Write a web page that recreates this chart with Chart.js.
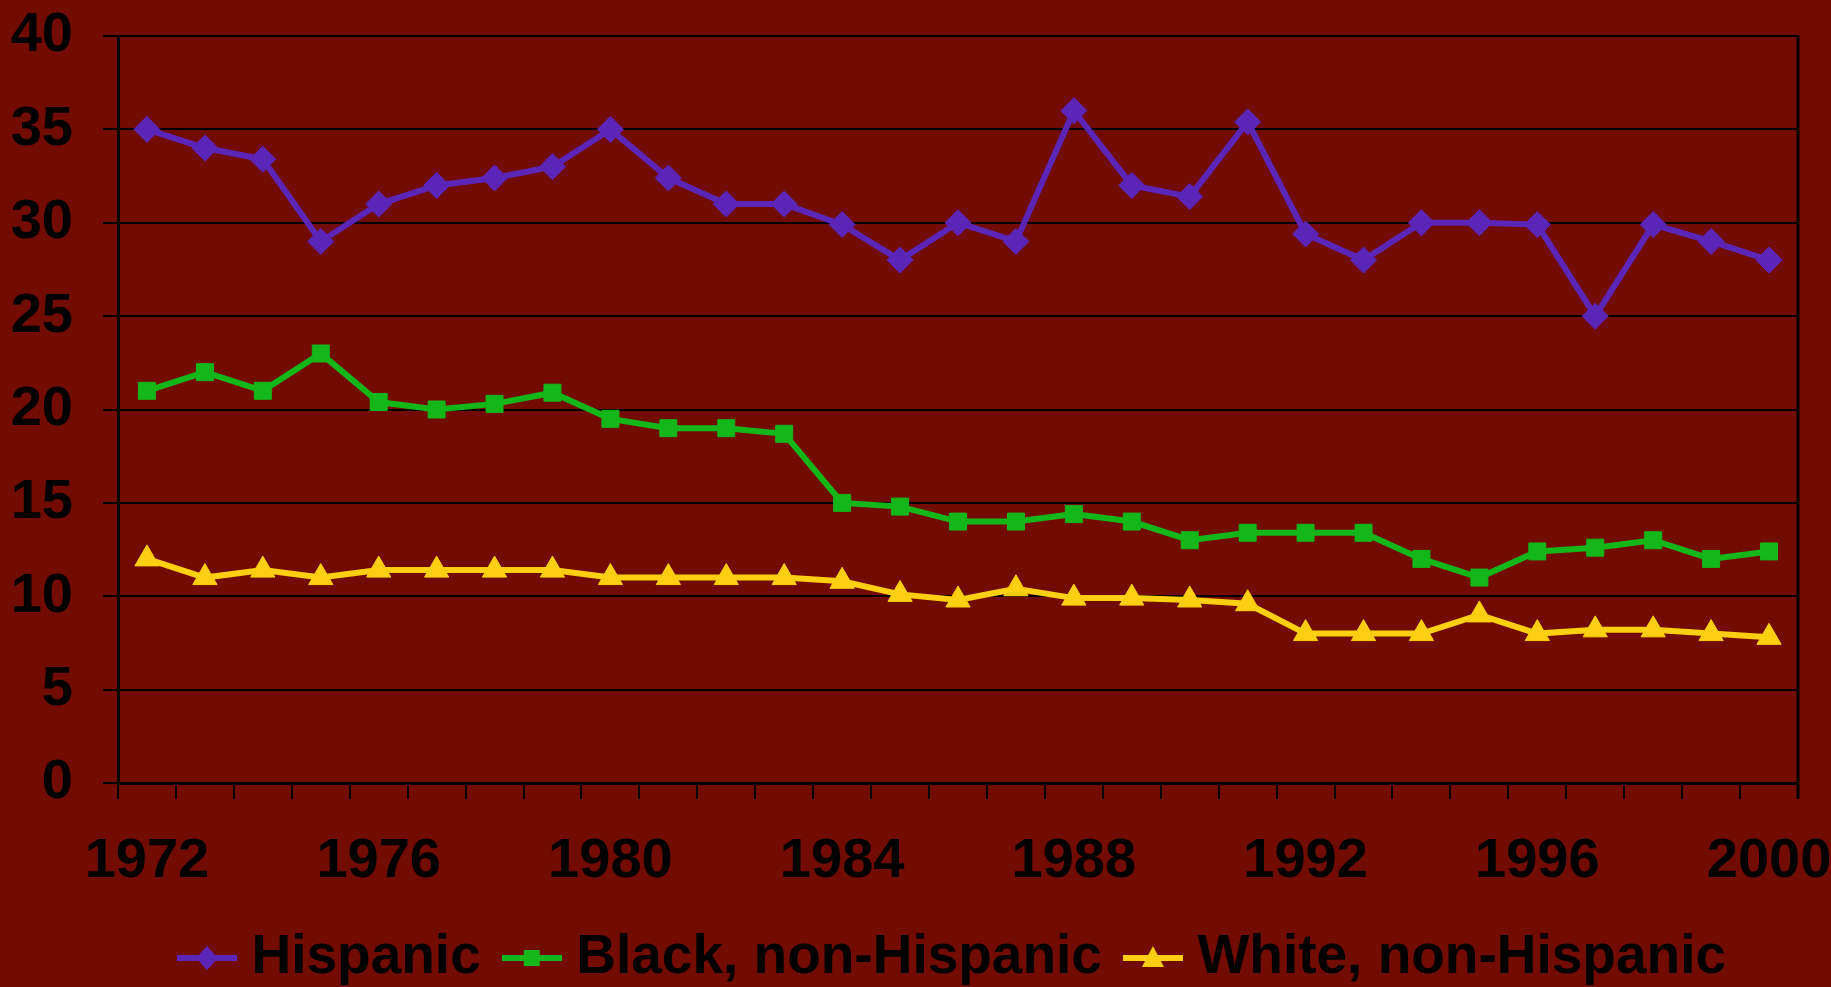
<!DOCTYPE html>
<html>
<head>
<meta charset="utf-8">
<title>Rates by group, 1972-2000</title>
<script src="https://cdn.jsdelivr.net/npm/chart.js@4.4.1/dist/chart.umd.min.js"></script>
<style>
  html, body { margin: 0; padding: 0; background: #720b02; }
  #wrap { width: 1831px; height: 987px; }
</style>
</head>
<body>
<div id="wrap"><canvas id="chart" width="1831" height="987"></canvas></div>
<script>
'use strict';

// ---- data ----
const YEARS = ['1972','1973','1974','1975','1976','1977','1978','1979','1980','1981',
               '1982','1983','1984','1985','1986','1987','1988','1989','1990','1991',
               '1992','1993','1994','1995','1996','1997','1998','1999','2000'];
const X_LABELED = ['1972','1976','1980','1984','1988','1992','1996','2000'];
const Y_TICKS = [0, 5, 10, 15, 20, 25, 30, 35, 40];

const HISPANIC = [35, 34, 33.4, 29, 31, 32, 32.4, 33, 35, 32.4,
                  31, 31, 29.9, 28, 30, 29, 36, 32, 31.4, 35.4,
                  29.4, 28, 30, 30, 29.9, 25, 29.9, 29, 28];
const BLACK    = [21, 22, 21, 23, 20.4, 20, 20.3, 20.9, 19.5, 19,
                  19, 18.7, 15, 14.8, 14, 14, 14.4, 14, 13, 13.4,
                  13.4, 13.4, 12, 11, 12.4, 12.6, 13, 12, 12.4];
const WHITE    = [12, 11, 11.4, 11, 11.4, 11.4, 11.4, 11.4, 11, 11,
                  11, 11, 10.8, 10.1, 9.8, 10.4, 9.9, 9.9, 9.8, 9.6,
                  8, 8, 8, 9, 8, 8.2, 8.2, 8, 7.8];

const SERIES_NAMES = ['Hispanic', 'Black, non-Hispanic', 'White, non-Hispanic'];
const COLORS = { purple: '#5b25b8', green: '#14b71a', yellow: '#fccf12' };

const FAMILY = "'Liberation Sans', Arial, sans-serif";
const TICK_FONT = { family: FAMILY, weight: 'bold', size: 56 };
const LEGEND_FONT = { family: FAMILY, weight: 'bold', size: 55 };

// legend marker: short line with the point shape, drawn into a small canvas
function legendMark(color, shape) {
  const c = document.createElement('canvas');
  c.width = 60; c.height = 30;
  const g = c.getContext('2d');
  const cx = 30, cy = 15;
  g.strokeStyle = color; g.lineWidth = 6;
  g.beginPath(); g.moveTo(0, cy); g.lineTo(60, cy); g.stroke();
  g.fillStyle = color;
  g.beginPath();
  if (shape === 'diamond') {
    g.moveTo(cx, cy - 12); g.lineTo(cx + 11, cy); g.lineTo(cx, cy + 12); g.lineTo(cx - 11, cy);
  } else if (shape === 'square') {
    g.rect(cx - 8, cy - 8, 16, 16);
  } else {
    g.moveTo(cx, cy - 12); g.lineTo(cx + 11, cy + 9); g.lineTo(cx - 11, cy + 9);
  }
  g.closePath(); g.fill();
  return c;
}
const LEGEND_MARKS = [
  legendMark(COLORS.purple, 'diamond'),
  legendMark(COLORS.green, 'square'),
  legendMark(COLORS.yellow, 'triangle'),
];

const plotFrame = {
  id: 'plotFrame',
  beforeDatasetsDraw(chart) {
    const { ctx, chartArea: a } = chart;
    ctx.save();
    ctx.strokeStyle = '#000';
    ctx.lineWidth = 3;
    ctx.beginPath();
    ctx.moveTo(a.right, a.top - 1);
    ctx.lineTo(a.right, a.bottom + 16);
    ctx.stroke();
    ctx.restore();
  }
};

function lineSet(label, data, color, style, radius) {
  return {
    label, data,
    borderColor: color, backgroundColor: color,
    borderWidth: 6, tension: 0,
    pointStyle: style, pointRadius: radius, pointHoverRadius: radius,
    pointBackgroundColor: color, pointBorderColor: color, pointBorderWidth: 1,
  };
}

new Chart(document.getElementById('chart'), {
  type: 'line',
  data: {
    labels: YEARS,
    datasets: [
      lineSet(SERIES_NAMES[0], HISPANIC, COLORS.purple, 'rectRot', 13),
      lineSet(SERIES_NAMES[1], BLACK, COLORS.green, 'rect', 12),
      lineSet(SERIES_NAMES[2], WHITE, COLORS.yellow, 'triangle', 14),
    ]
  },
  options: {
    responsive: false,
    devicePixelRatio: 1,
    animation: false,
    layout: { padding: { left: 0, right: 33, top: 36, bottom: -8.5 } },
    plugins: {
      tooltip: { enabled: false },
      legend: {
        position: 'bottom',
        fullSize: false,
        labels: {
          color: '#000',
          font: LEGEND_FONT,
          usePointStyle: true,
          pointStyleWidth: 34,
          padding: 34,
          generateLabels(chart) {
            const items = Chart.defaults.plugins.legend.labels.generateLabels(chart);
            items.forEach((it, i) => { it.pointStyle = LEGEND_MARKS[i]; });
            return items;
          }
        }
      }
    },
    scales: {
      x: {
        offset: true,
        grid: { offset: true, drawOnChartArea: false, drawTicks: true, tickLength: 16, color: '#000', lineWidth: 2 },
        border: { color: '#000', width: 3 },
        ticks: {
          autoSkip: false, maxRotation: 0, minRotation: 0, padding: 29,
          color: '#000', font: TICK_FONT,
          callback: (v, i) => X_LABELED.includes(YEARS[i]) ? YEARS[i] : ''
        },
        afterFit(s) { s.height = 113.5; s.paddingLeft = 0; s.paddingRight = 0; }
      },
      y: {
        min: 0, max: 40,
        afterBuildTicks(s) { s.ticks = Y_TICKS.map(v => ({ value: v })); },
        grid: { color: '#000', lineWidth: 2, drawTicks: true, tickLength: 15 },
        border: { color: '#000', width: 3 },
        ticks: { color: '#000', font: TICK_FONT, padding: 30 },
        afterFit(s) { s.width = 118; s.paddingTop = 0; s.paddingBottom = 0; }
      }
    }
  },
  plugins: [plotFrame]
});
</script>
</body>
</html>
